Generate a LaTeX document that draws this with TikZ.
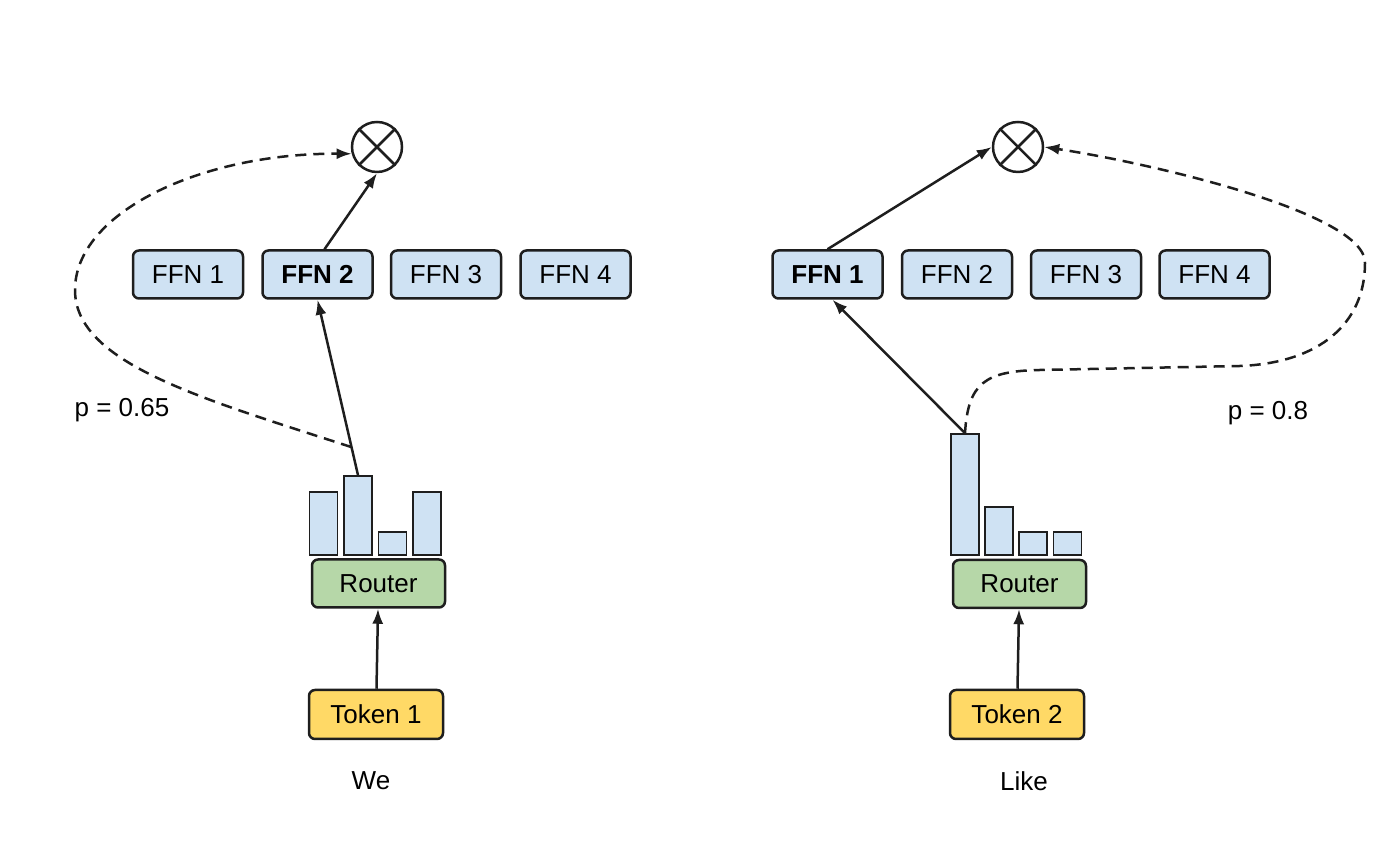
\documentclass[tikz,border=0pt]{standalone}
\usepackage{fontspec}
\setmainfont{Liberation Sans}
\usetikzlibrary{arrows.meta,positioning}
\definecolor{ffnblue}{HTML}{CFE2F3}
\definecolor{routergreen}{HTML}{B6D7A8}
\definecolor{tokenyellow}{HTML}{FFD966}
\definecolor{edgegray}{HTML}{1E1E1E}

\begin{document}
\begin{tikzpicture}
[x=1pt,y=1pt,
every node/.style={font=\fontsize{26}{30}\selectfont,text=black},
box/.style={draw=edgegray,rounded corners=6pt,line width=2.5pt,inner sep=0pt},
ffn/.style={box,fill=ffnblue,minimum width=110,minimum height=48},
router/.style={box,fill=routergreen,minimum width=133,minimum height=48},
token/.style={box,fill=tokenyellow,minimum width=134,minimum height=49},
bar/.style={draw=edgegray,line width=1.8pt,fill=ffnblue,anchor=south,minimum width=28,inner sep=0pt},
mult/.style={draw=edgegray,circle,line width=2.5pt,minimum size=50,inner sep=0pt},
arr/.style={-{Latex[length=15pt,width=11pt]},line width=2.5pt,edgegray},
darr/.style={arr,dash pattern=on 11pt off 7pt}]
\useasboundingbox (0,0) rectangle (1400,853);

% left token
\foreach \i/\x/\s in {1/188/{},2/317.5/\bfseries,3/446/{},4/575.5/{}}
  \node[ffn] (lf\i) at (\x,578.5) {\s FFN \i};
\foreach \i/\x/\h in {1/323.5/63,2/358/79,3/392.5/23,4/427/63}
  \node[bar,minimum height=\h] (lb\i) at (\x,297) {};
\node[router] (lr) at (378.5,269.5) {Router};
\node[token] (lt) at (376,138.5) {Token 1};
\node (lw) at (371,72) {We};
\node[mult] (lc) at (377,706) {};
\draw[line width=2.5pt,edgegray] (lc.45) -- (lc.225) (lc.135) -- (lc.-45);
\node (lp) at (122,443) {p = 0.65};

\draw[arr] (lt) -- (lr);
\draw[arr] (lb2.north) -- (lf2.south);
\draw[arr] ([xshift=7pt]lf2.north) -- (lc.south);
\path (lb2.north) -- (lf2.south) coordinate[pos=0.16] (ls);
\draw[darr] (ls) .. controls (200,455) and (75,490) .. (75,563)
  .. controls (75,640) and (200,700) .. (lc.195);

% right token
\foreach \i/\x/\s in {1/827.5/\bfseries,2/957/{},3/1086/{},4/1214.5/{}}
  \node[ffn] (rf\i) at (\x,578.5) {\s FFN \i};
\foreach \i/\x/\h in {1/965/121,2/999/48,3/1033/23,4/1067.5/23}
  \node[bar,minimum height=\h] (rb\i) at (\x,297) {};
\node[router] (rr) at (1019.5,269) {Router};
\node[token] (rt) at (1017,138.5) {Token 2};
\node (rw) at (1024,72) {Like};
\node[mult] (rc) at (1018,706) {};
\draw[line width=2.5pt,edgegray] (rc.45) -- (rc.225) (rc.135) -- (rc.-45);
\node (rp) at (1268,440) {p = 0.8};

\draw[arr] (rt) -- (rr);
\draw[arr] (rb1.north) -- ([xshift=5pt]rf1.south);
\draw[arr] (rf1.north) -- (rc.west);
\draw[darr] (rb1.north) .. controls (968,470) and (985,482) .. (1040,483)
  -- (1240,487) .. controls (1320,490) and (1365,530) .. (1365,590)
  .. controls (1366,640) and (1150,690) .. (rc.east);
\end{tikzpicture}
\end{document}
